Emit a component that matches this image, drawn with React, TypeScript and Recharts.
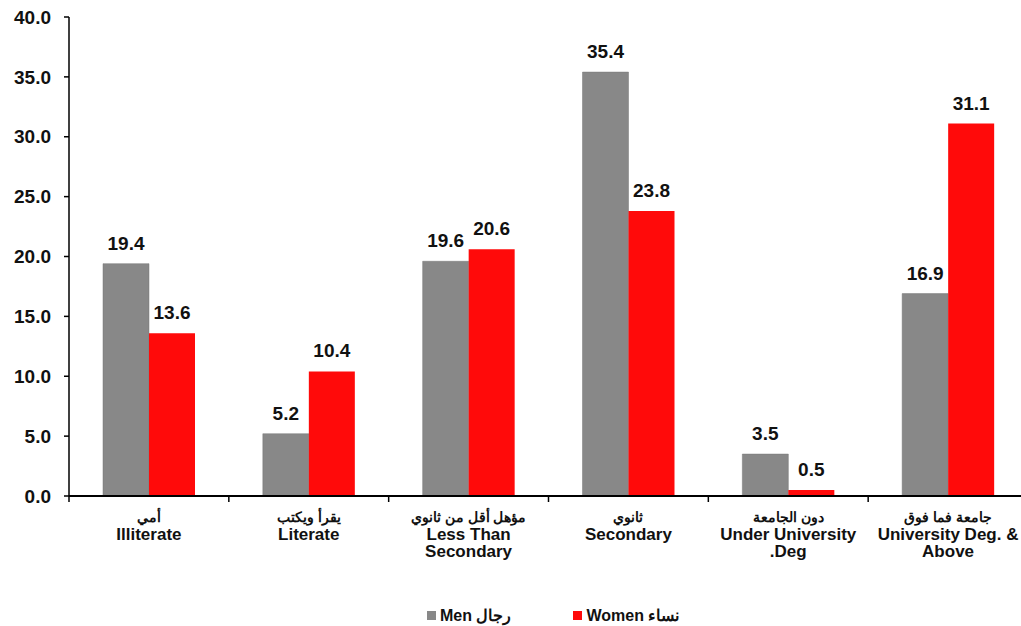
import React from 'react';
import { BarChart, Bar, XAxis, YAxis, LabelList, Legend } from 'recharts';

const categoriesAr = ['أمي', 'يقرأ ويكتب', 'مؤهل أقل من ثانوي', 'ثانوي', 'دون الجامعة', 'جامعة فما فوق'];
const categoriesEn = [
  ['Illiterate'],
  ['Literate'],
  ['Less Than', 'Secondary'],
  ['Secondary'],
  ['Under University', '.Deg'],
  ['University Deg. &', 'Above'],
];
const men = [19.4, 5.2, 19.6, 35.4, 3.5, 16.9];
const women = [13.6, 10.4, 20.6, 23.8, 0.5, 31.1];
const yTicks = [0, 5, 10, 15, 20, 25, 30, 35, 40];

const data = categoriesAr.map((ar, i) => ({ name: String(i), ar, en: categoriesEn[i], men: men[i], women: women[i] }));

const CHART_W = 1040;
const CHART_H = 626;
const MARGIN = { top: 17, right: 12, left: 9, bottom: 0 };
const Y_W = 60;
const BAND = (CHART_W - MARGIN.left - MARGIN.right - Y_W) / categoriesAr.length;
const FONT = '"Liberation Sans", Arial, sans-serif';

function CatTick(props: any) {
  const { x, y, payload } = props;
  const d = data[Number(payload.value)];
  return (
    <g>
      <line x1={x - BAND / 2} x2={x - BAND / 2} y1={y} y2={y + 6} stroke="#000" strokeWidth={1.5} />
      <text x={x} y={y + 26} textAnchor="middle" fontFamily={FONT} fontWeight="bold" fontSize={14} fill="#111">
        {d.ar}
      </text>
      {d.en.map((line: string, i: number) => (
        <text key={i} x={x} y={y + 44 + i * 17} textAnchor="middle" fontFamily={FONT} fontWeight="bold" fontSize={17} fill="#111">
          {line}
        </text>
      ))}
    </g>
  );
}

function LegendBox() {
  const item = (color: string, label: string) => (
    <div style={{ display: 'flex', alignItems: 'center', gap: 4 }}>
      <span style={{ width: 9, height: 9, background: color, display: 'inline-block' }} />
      <span>{label}</span>
    </div>
  );
  return (
    <div
      style={{
        display: 'flex',
        gap: 62,
        paddingLeft: 418,
        paddingTop: 20,
        fontFamily: FONT,
        fontWeight: 'bold',
        fontSize: 16,
        color: '#111',
      }}
    >
      {item('#888888', 'Men رجال')}
      {item('#ff0a0a', 'Women نساء')}
    </div>
  );
}

export default function App() {
  return (
    <div style={{ position: 'fixed', left: 0, top: 0, width: 1021, height: 626, overflow: 'hidden', background: '#fff' }}>
      <BarChart width={CHART_W} height={CHART_H} data={data} margin={MARGIN} barGap={0} barSize={46}>
        <XAxis
          dataKey="name"
          tick={<CatTick />}
          tickLine={false}
          tickSize={0}
          tickMargin={0}
          height={90}
          interval={0}
          axisLine={{ stroke: '#000', strokeWidth: 2 }}
        />
        <YAxis
          width={Y_W}
          domain={[0, 40]}
          ticks={yTicks}
          interval={0}
          tickFormatter={(v: number) => v.toFixed(1)}
          tickSize={5}
          tickMargin={13}
          axisLine={{ stroke: '#000', strokeWidth: 1.5 }}
          tickLine={{ stroke: '#000', strokeWidth: 1.5 }}
          tick={{ fill: '#111', fontFamily: FONT, fontWeight: 'bold', fontSize: 19 }}
        />
        <Legend verticalAlign="bottom" height={40} content={<LegendBox />} />
        <Bar dataKey="men" fill="#888888" stroke="#777" strokeWidth={0.5} isAnimationActive={false}>
          <LabelList
            dataKey="men"
            position="top"
            offset={14}
            formatter={(v: any) => Number(v).toFixed(1)}
            style={{ fill: '#111', fontFamily: FONT, fontWeight: 'bold', fontSize: 19 }}
          />
        </Bar>
        <Bar dataKey="women" fill="#ff0a0a" isAnimationActive={false}>
          <LabelList
            dataKey="women"
            position="top"
            offset={14}
            formatter={(v: any) => Number(v).toFixed(1)}
            style={{ fill: '#111', fontFamily: FONT, fontWeight: 'bold', fontSize: 19 }}
          />
        </Bar>
      </BarChart>
    </div>
  );
}
